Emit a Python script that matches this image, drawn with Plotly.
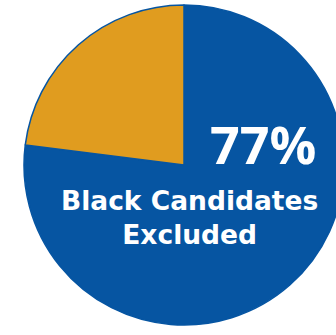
import plotly.graph_objects as go

# Share of candidates excluded vs. not excluded
labels = ["Black Candidates Excluded", "Not Excluded"]
values = [77, 23]
colors = ["#0655A2", "#E09C1F"]

W, H = 352, 335
CX, CY, R = 184, 165, 160  # pie centre and radius in pixels


def px_x(x):
    return x / W


def px_y(y):
    return 1 - y / H


fig = go.Figure(
    go.Pie(
        labels=labels,
        values=values,
        sort=False,
        direction="clockwise",
        rotation=0,
        marker=dict(colors=colors, line=dict(color="#0655A2", width=1.5)),
        textinfo="none",
        hoverinfo="label+percent",
        showlegend=False,
        domain=dict(
            x=[px_x(CX - R), px_x(CX + R)],
            y=[px_y(CY + R), px_y(CY - R)],
        ),
    )
)

fig.add_annotation(
    x=px_x(263), y=px_y(143.5), xref="paper", yref="paper",
    text=f"<b>{values[0]}%</b>", showarrow=False,
    xanchor="center", yanchor="middle",
    font=dict(family="Open Sans, sans-serif", size=52, color="white"),
)
fig.add_annotation(
    x=px_x(189), y=px_y(217.5), xref="paper", yref="paper",
    text="<b>Black Candidates<br>Excluded</b>", showarrow=False,
    xanchor="center", yanchor="middle", align="center",
    font=dict(family="DejaVu Sans, sans-serif", size=26.5, color="white"),
)

fig.update_layout(
    width=W, height=H,
    margin=dict(l=0, r=0, t=0, b=0),
    paper_bgcolor="white", plot_bgcolor="white",
)

fig.write_html(
    "out.html",
    post_script=(
        "document.body.style.margin='0';"
        "document.body.style.overflow='hidden';"
        "document.documentElement.style.overflow='hidden';"
    ),
)
